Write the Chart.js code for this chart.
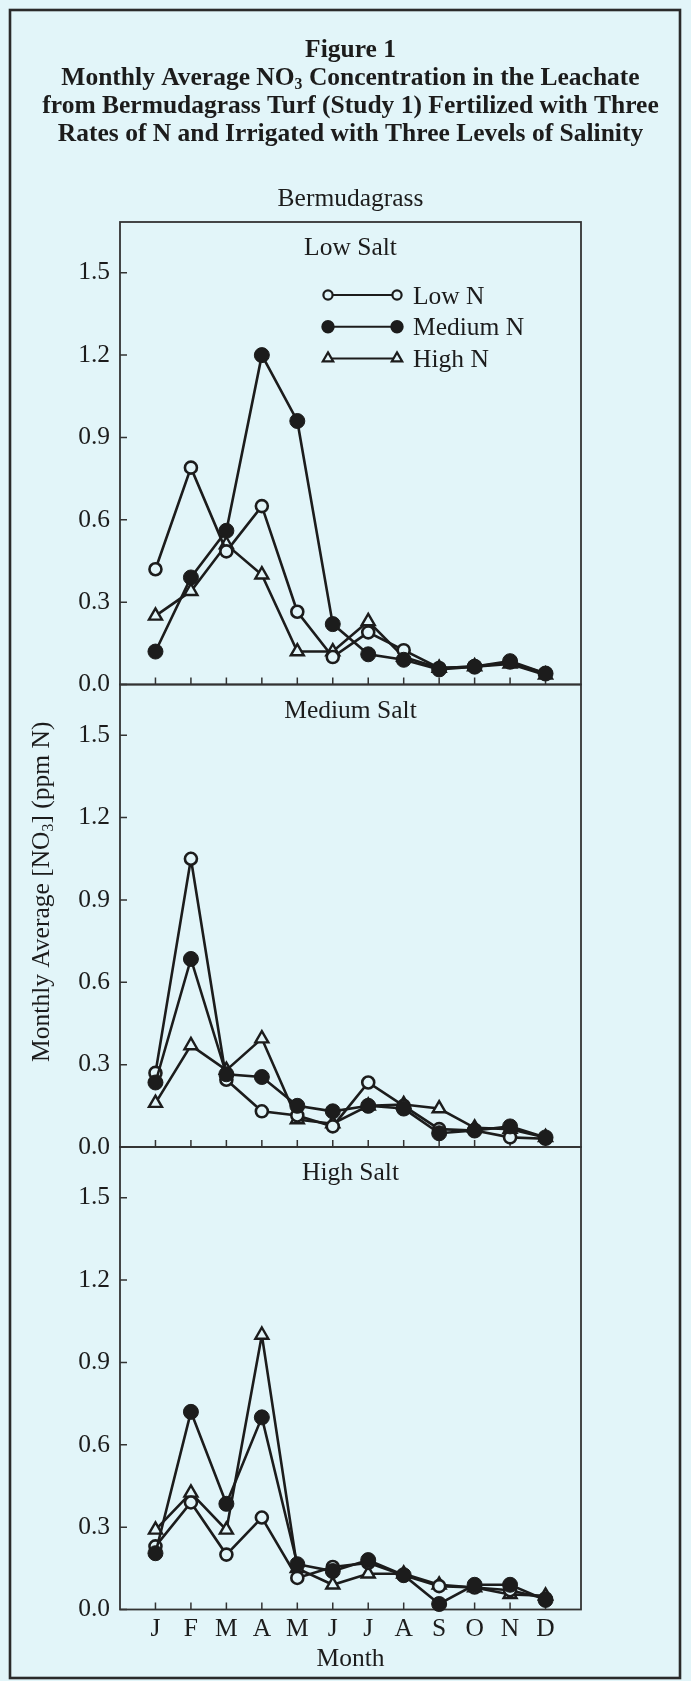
<!DOCTYPE html>
<html>
<head>
<meta charset="utf-8">
<script src="https://cdn.jsdelivr.net/npm/chart.js@4/dist/chart.umd.min.js"></script>
<style>
  html, body { margin: 0; padding: 0; background: #e2f4f8; }
  canvas { display: block; }
</style>
</head>
<body>
<canvas id="fig" width="691" height="1681"></canvas>
<script>
// ==== Data ====
const MONTHS = ['J','F','M','A','M','J','J','A','S','O','N','D'];
const Y_TICKS = [0.0, 0.3, 0.6, 0.9, 1.2, 1.5];

const lowSaltLowN  = [0.42, 0.79, 0.485, 0.65, 0.265, 0.10, 0.19, 0.125, 0.06, 0.065, 0.08, 0.04];
const lowSaltMedN  = [0.12, 0.39, 0.56, 1.20, 0.96, 0.22, 0.11, 0.09, 0.055, 0.065, 0.085, 0.04];
const lowSaltHighN = [0.25, 0.34, 0.51, 0.40, 0.12, 0.12, 0.23, 0.10, 0.06, 0.065, 0.075, 0.035];

const medSaltLowN  = [0.27, 1.05, 0.245, 0.13, 0.115, 0.075, 0.235, 0.15, 0.065, 0.06, 0.035, 0.03];
const medSaltMedN  = [0.235, 0.685, 0.265, 0.255, 0.15, 0.13, 0.15, 0.14, 0.05, 0.06, 0.075, 0.035];
const medSaltHighN = [0.16, 0.37, 0.28, 0.395, 0.10, 0.085, 0.15, 0.155, 0.14, 0.07, 0.065, 0.035];

const highSaltLowN  = [0.23, 0.39, 0.20, 0.335, 0.115, 0.155, 0.17, 0.125, 0.085, 0.08, 0.07, 0.04];
const highSaltMedN  = [0.205, 0.72, 0.385, 0.70, 0.165, 0.14, 0.18, 0.125, 0.02, 0.09, 0.09, 0.035];
const highSaltHighN = [0.29, 0.425, 0.29, 1.00, 0.15, 0.09, 0.13, 0.13, 0.09, 0.08, 0.055, 0.05];

const PANELS = [
  { id: 'yLow',  name: 'Low Salt',    weight: 3, low: lowSaltLowN,  med: lowSaltMedN,  high: lowSaltHighN },
  { id: 'yMed',  name: 'Medium Salt', weight: 2, low: medSaltLowN,  med: medSaltMedN,  high: medSaltHighN },
  { id: 'yHigh', name: 'High Salt',   weight: 1, low: highSaltLowN, med: highSaltMedN, high: highSaltHighN }
];
const SERIES = [
  { key: 'med',  label: 'Medium N' },
  { key: 'low',  label: 'Low N' },
  { key: 'high', label: 'High N' }
];

// ==== Style ====
const BG = '#e2f5f9';
const INK = '#1c1c1c';
const FRAME = '#333';
const SERIF = '"Liberation Serif", "Times New Roman", serif';
const FS = 25.5;

const toPoints = (vals) => vals.map((v, i) => ({ x: i + 1, y: v }));

function pointStyleFor(key){
  if(key === 'low')  return { pointStyle: 'circle',   pointRadius: 6,   pointBackgroundColor: BG,  pointBorderWidth: 2.6 };
  if(key === 'med')  return { pointStyle: 'circle',   pointRadius: 7.5, pointBackgroundColor: INK, pointBorderWidth: 1 };
  return               { pointStyle: 'triangle', pointRadius: 7.5, pointBackgroundColor: BG,  pointBorderWidth: 2.4 };
}

const datasets = [];
PANELS.forEach(p => {
  SERIES.forEach(s => {
    datasets.push(Object.assign({
      label: p.name + ' ' + s.label,
      data: toPoints(p[s.key]),
      yAxisID: p.id,
      xAxisID: 'x',
      borderColor: INK,
      borderWidth: 2.6,
      pointBorderColor: INK,
      tension: 0,
      clip: false
    }, pointStyleFor(s.key)));
  });
});

// ==== Scales ====
const scales = {
  x: {
    type: 'linear',
    position: 'bottom',
    min: 0, max: 13,
    grid: { display: false, drawTicks: false },
    border: { display: false },
    afterBuildTicks: (s) => { s.ticks = MONTHS.map((m, i) => ({ value: i + 1 })); },
    afterFit: (s) => { s.height = 71.5; },
    ticks: {
      autoSkip: false, maxRotation: 0, padding: 4,
      color: INK, font: { family: SERIF, size: FS },
      callback: (v) => MONTHS[v - 1] || ''
    },
    title: {
      display: true, text: 'Month', color: INK,
      font: { family: SERIF, size: FS },
      padding: { top: 0, bottom: 6 }
    }
  }
};
PANELS.forEach(p => {
  scales[p.id] = {
    type: 'linear',
    position: 'left',
    stack: 'salt',
    stackWeight: 1,
    weight: p.weight,
    min: 0, max: 1.685,
    grid: { display: false, drawTicks: false },
    border: { display: false },
    afterBuildTicks: (s) => { s.ticks = Y_TICKS.map(v => ({ value: v })); },
    afterFit: (s) => { s.width = 120; },
    ticks: {
      padding: 10, color: INK,
      font: { family: SERIF, size: FS },
      callback: (v) => Number(v).toFixed(1)
    }
  };
});

// ==== Text helpers ====
function richText(ctx, parts, x, y, size, weight){
  const widths = parts.map(([t, sub]) => {
    ctx.font = `${weight} ${sub ? size * 0.62 : size}px ${SERIF}`;
    return ctx.measureText(t).width;
  });
  const total = widths.reduce((a, b) => a + b, 0);
  let cx = x - total / 2;
  ctx.textAlign = 'left';
  ctx.textBaseline = 'alphabetic';
  parts.forEach(([t, sub], i) => {
    ctx.font = `${weight} ${sub ? size * 0.62 : size}px ${SERIF}`;
    ctx.fillText(t, cx, y + (sub ? size * 0.16 : 0));
    cx += widths[i];
  });
}

function drawMarker(ctx, key, x, y, r){
  ctx.save();
  ctx.strokeStyle = INK;
  ctx.lineWidth = 2.2;
  ctx.beginPath();
  if(key === 'high'){
    const h = r * 1.5, w = r * 0.866;
    ctx.moveTo(x, y - r);
    ctx.lineTo(x + w, y - r + h);
    ctx.lineTo(x - w, y - r + h);
    ctx.closePath();
    ctx.fillStyle = BG;
  } else {
    ctx.arc(x, y, r, 0, Math.PI * 2);
    ctx.fillStyle = key === 'med' ? INK : BG;
  }
  ctx.fill();
  ctx.stroke();
  ctx.restore();
}

// ==== Figure plugin: background, frames, inward ticks, titles, legend ====
const figurePlugin = {
  id: 'figure',
  beforeDraw(chart){
    const { ctx, width, height } = chart;
    ctx.save();
    ctx.fillStyle = BG;
    ctx.fillRect(0, 0, width, height);
    ctx.strokeStyle = '#2a2a2a';
    ctx.lineWidth = 2.6;
    ctx.strokeRect(10, 10, width - 21, height - 13);
    ctx.restore();
  },
  beforeDatasetsDraw(chart){
    const { ctx, chartArea: a } = chart;
    const xs = chart.scales.x;
    const cx = (a.left + a.right) / 2;
    ctx.save();
    ctx.fillStyle = INK;

    // titles
    richText(ctx, [['Figure 1', false]], cx, 57, FS, 'bold');
    richText(ctx, [['Monthly Average NO', false], ['3', true], [' Concentration in the Leachate', false]], cx, 85, FS, 'bold');
    richText(ctx, [['from Bermudagrass Turf (Study 1) Fertilized with Three', false]], cx, 113, FS, 'bold');
    richText(ctx, [['Rates of N and Irrigated with Three Levels of Salinity', false]], cx, 141, FS, 'bold');
    richText(ctx, [['Bermudagrass', false]], cx, 206, FS, 'normal');

    // y axis title (rotated)
    ctx.save();
    ctx.translate(49, (a.top + a.bottom) / 2 - 24);
    ctx.rotate(-Math.PI / 2);
    richText(ctx, [['Monthly Average [NO', false], ['3', true], ['] (ppm N)', false]], 0, 0, FS, 'normal');
    ctx.restore();

    // panel frames, inward ticks, panel names
    ctx.strokeStyle = FRAME;
    PANELS.forEach(p => {
      const s = chart.scales[p.id];
      ctx.lineWidth = 1.8;
      ctx.strokeRect(a.left, s.top, a.right - a.left, s.bottom - s.top);
      ctx.lineWidth = 1.5;
      ctx.beginPath();
      s.ticks.forEach(t => {
        const y = s.getPixelForValue(t.value);
        ctx.moveTo(a.left, y); ctx.lineTo(a.left + 7, y);
      });
      MONTHS.forEach((m, i) => {
        const x = xs.getPixelForValue(i + 1);
        ctx.moveTo(x, s.bottom); ctx.lineTo(x, s.bottom - 7);
      });
      ctx.stroke();
      richText(ctx, [[p.name, false]], cx, s.top + 33, FS, 'normal');
    });

    // legend (inside the Low Salt panel)
    const top = chart.scales[PANELS[0].id].top;
    ['low', 'med', 'high'].forEach((key, i) => {
      const y = top + 73 + i * 31.7;
      const x1 = 328, x2 = 397;
      ctx.strokeStyle = INK;
      ctx.lineWidth = 2;
      ctx.beginPath(); ctx.moveTo(x1, y); ctx.lineTo(x2, y); ctx.stroke();
      const r = key === 'high' ? 6 : (key === 'med' ? 5.6 : 4.6);
      drawMarker(ctx, key, x1, y, r);
      drawMarker(ctx, key, x2, y, r);
      ctx.font = `${FS}px ${SERIF}`;
      ctx.textAlign = 'left';
      ctx.textBaseline = 'alphabetic';
      ctx.fillStyle = INK;
      ctx.fillText(SERIES.find(s => s.key === key).label, 413, y + 8.5);
    });
    ctx.restore();
  }
};

new Chart(document.getElementById('fig').getContext('2d'), {
  type: 'line',
  data: { datasets },
  options: {
    responsive: false,
    animation: false,
    layout: { padding: { top: 222, right: 110, bottom: 0, left: 0 } },
    plugins: { legend: { display: false }, tooltip: { enabled: false } },
    scales
  },
  plugins: [figurePlugin]
});
</script>
</body>
</html>
